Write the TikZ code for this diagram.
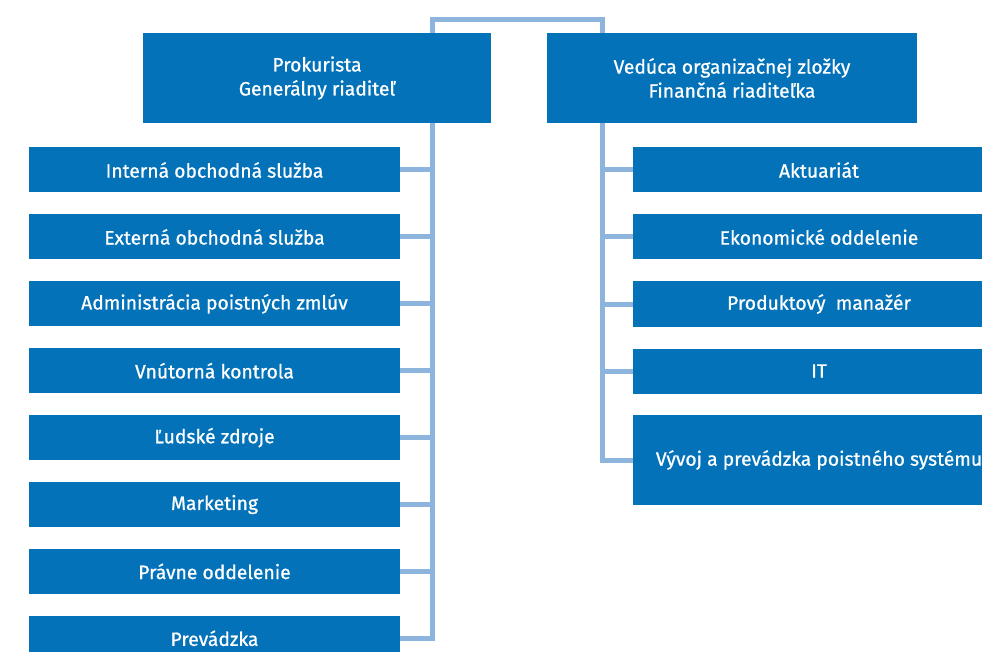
\documentclass[tikz,border=0pt]{standalone}
\usepackage{fontspec}
\setmainfont[FakeBold=0.8]{Fira Sans}
\usetikzlibrary{positioning, backgrounds}
\definecolor{OrgBlue}{HTML}{0372B9}
\definecolor{OrgLine}{HTML}{8DB4DC}
\tikzset{
  unit/.style={fill=OrgBlue, text=white, inner sep=0pt, align=center,
    font=\fontsize{19.3}{24}\selectfont},
  head/.style={unit, minimum height=90pt},
  dept/.style={unit, minimum height=45pt},
  link/.style={draw=OrgLine, line width=5pt}
}
\begin{document}
\begin{tikzpicture}[x=1pt, y=-1pt]
  \clip (0,0) rectangle (982,652);

  % Spine points
  \coordinate (lspine) at (432,20);
  \coordinate (rspine) at (602,20);

  % Heads
  \node[head, minimum width=348pt] (gr) at (317,78) {Prokurista\\Generálny riaditeľ};
  \node[head, minimum width=370pt] (fr) at (732,78) {Vedúca organizačnej zložky\\Finančná riaditeľka};

  % Left departments
  \foreach \t [count=\i] in {Interná obchodná služba, Externá obchodná služba,
      Administrácia poistných zmlúv, Vnútorná kontrola, Ľudské zdroje,
      Marketing, Právne oddelenie, Prevádzka} {
    \pgfmathsetmacro{\y}{170 + 66.9*(\i-1)}
    \node[dept, minimum width=371pt] (l\i) at (214.5,\y) {\t};
  }

  % Right departments
  \foreach \t [count=\i] in {Aktuariát, Ekonomické oddelenie,
      Produktový\ \ manažér, IT} {
    \pgfmathsetmacro{\y}{170 + 67*(\i-1)}
    \node[dept, minimum width=372pt] (r\i) at (819,\y) {\t};
  }
  \node[head, minimum width=372pt] (r5) at (819,460) {Vývoj a prevádzka poistného systému};

  % Connectors
  \begin{scope}[on background layer]
    \fill[white] (0,0) rectangle (982,652);
    \draw[link] (l8.east) -| (lspine) -- (rspine) |- (r5.west);
    \foreach \i in {1,...,7} {
      \draw[link] (l\i.east) -- (l\i.east -| lspine);
    }
    \foreach \i in {1,...,4} {
      \draw[link] (r\i.west) -- (r\i.west -| rspine);
    }
  \end{scope}
\end{tikzpicture}
\end{document}
